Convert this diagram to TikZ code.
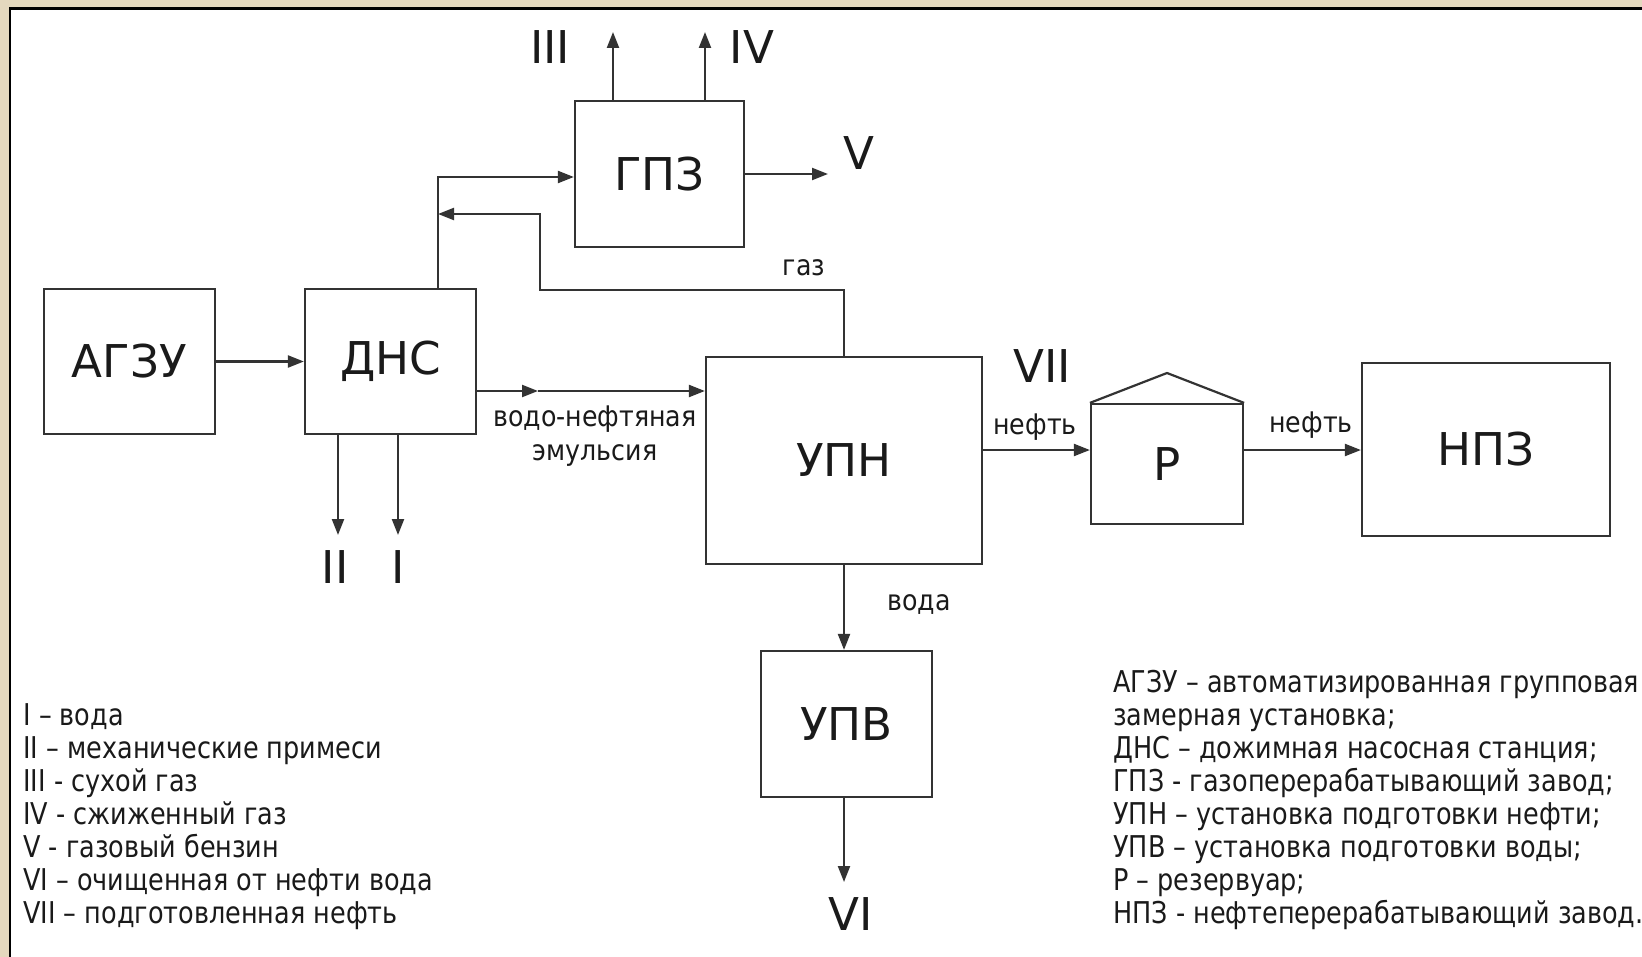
\documentclass[tikz,border=0pt]{standalone}
\usepackage{fontspec}
\setmainfont{DejaVu Sans}[FakeStretch=0.85]
\newfontfamily\bigf{DejaVu Sans}
\newfontfamily\smallf{DejaVu Sans}[FakeStretch=0.89]
\usetikzlibrary{arrows.meta}
\definecolor{beige}{HTML}{E4D8BE}
\definecolor{ln}{HTML}{333333}
\definecolor{tx}{HTML}{1A1A1A}
\begin{document}
\begin{tikzpicture}[x=0.5pt,y=-0.5pt,
  box/.style={draw=ln, line width=1.1pt, inner sep=0pt, text=tx, font=\bigf\fontsize{22.6}{27}\selectfont},
  big/.style={text=tx, font=\bigf\fontsize{22.6}{27}\selectfont, inner sep=0pt},
  small/.style={text=tx, font=\smallf\fontsize{14.2}{17}\selectfont, inner sep=0pt},
  leg/.style={text=tx, font=\fontsize{15}{18}\selectfont, inner sep=0pt, anchor=base west},
  arr/.style={draw=ln, line width=1.1pt, -{Triangle[length=8pt,width=6pt]}},
  plain/.style={draw=ln, line width=1.1pt}]
\useasboundingbox (0,0) rectangle (1642,957);
\fill[beige] (0,0) rectangle (1642,957);
\fill[white] (10,9) rectangle (1642,957);
\draw[black, line width=1.2pt] (10,957) -- (10,8.5) -- (1642,8.5);

% boxes
\node[box, minimum width=85.5pt, minimum height=72.5pt] (agzu) at (129.5,361.5) {АГЗУ};
\node[box, minimum width=85.5pt, minimum height=72.5pt] (dns) at (390.5,361.5) {ДНС};
\node[box, minimum width=84.5pt, minimum height=73pt] (gpz) at (659.5,174) {ГПЗ};
\node[box, minimum width=138pt, minimum height=103.5pt] (upn) at (844,460.5) {УПН};
\node[box, minimum width=85.5pt, minimum height=73pt] (upv) at (846.5,724) {УПВ};
\node[box, minimum width=76pt, minimum height=60pt] (res) at (1167,464) {Р};
\node[box, minimum width=124pt, minimum height=86.5pt] (npz) at (1486,449.5) {НПЗ};
\coordinate (roof) at (1167,373);
\draw[plain, line join=miter] (res.north west) -- (roof) -- (res.north east);

% coordinates
\coordinate (j1) at (438,177);
\coordinate (g1) at (540,290);
\coordinate (g2) at (438,214);
\coordinate (vend) at (828,174);
\coordinate (t3) at (613,32);
\coordinate (t4) at (705,32);
\coordinate (emid) at (538,391);
\coordinate (d2) at (338,535);
\coordinate (d1) at (398,535);
\coordinate (oy) at (0,450);
\coordinate (vi) at (844,882);

% connectors
\draw[arr] (agzu.east) -- (dns.west);
\draw[arr] (dns.north -| j1) |- (gpz.west |- j1);
\draw[arr] (upn.north) |- (g1) |- (g2);
\draw[arr] (gpz.east |- vend) -- (vend);
\draw[arr] (gpz.north -| t3) -- (t3);
\draw[arr] (gpz.north -| t4) -- (t4);
\draw[arr] (dns.east |- emid) -- (emid);
\draw[arr] (emid) -- (upn.west |- emid);
\draw[arr] (dns.south -| d2) -- (d2);
\draw[arr] (dns.south -| d1) -- (d1);
\draw[arr] (upn.east |- oy) -- (res.west |- oy);
\draw[arr] (res.east |- oy) -- (npz.west |- oy);
\draw[arr] (upn.south) -- (upn.south |- upv.north);
\draw[arr] (upv.south -| vi) -- (vi);

% stream labels
\node[big] (lIII) at (550,47) {III};
\node[big] (lIV) at (752,47) {IV};
\node[big] (lV) at (859,153) {V};
\node[big] (lII) at (335,567) {II};
\node[big] (lI) at (398,567) {I};
\node[big] (lVI) at (851,914) {VI};
\node[big] (lVII) at (1042,366) {VII};
\node[small] (lgas) at (804,268) {газ};
\node[small] (lem1) at (595,419) {водо-нефтяная};
\node[small] (lem2) at (595,455) {эмульсия};
\node[small] (lvoda) at (919,605) {вода};
\node[small] (loil1) at (1035,427) {нефть};
\node[small] (loil2) at (1311,425) {нефть};

% legend left
\node[leg] (a1) at (23,725) {I – вода};
\node[leg] (a2) at (23,758) {II – механические примеси};
\node[leg] (a3) at (23,791) {III - сухой газ};
\node[leg] (a4) at (23,824) {IV - сжиженный газ};
\node[leg] (a5) at (23,857) {V - газовый бензин};
\node[leg] (a6) at (23,890) {VI – очищенная от нефти вода};
\node[leg] (a7) at (23,923) {VII – подготовленная нефть};

% legend right
\node[leg] (b1) at (1113,692) {АГЗУ – автоматизированная групповая};
\node[leg] (b2) at (1113,725) {замерная установка;};
\node[leg] (b3) at (1113,758) {ДНС – дожимная насосная станция;};
\node[leg] (b4) at (1113,791) {ГПЗ - газоперерабатывающий завод;};
\node[leg] (b5) at (1113,824) {УПН – установка подготовки нефти;};
\node[leg] (b6) at (1113,857) {УПВ – установка подготовки воды;};
\node[leg] (b7) at (1113,890) {Р – резервуар;};
\node[leg] (b8) at (1113,923) {НПЗ - нефтеперерабатывающий завод.};
\end{tikzpicture}
\end{document}
